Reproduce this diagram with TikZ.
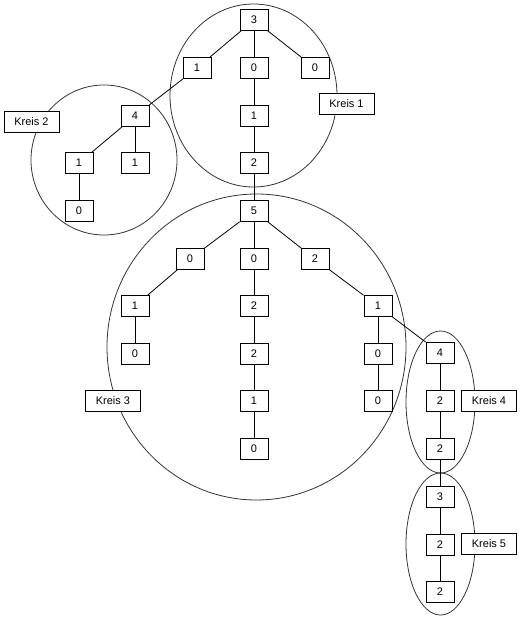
\documentclass[tikz,border=0pt]{standalone}
\usepackage{fontspec}
\setmainfont{Liberation Sans}
\usepackage{tikz}
\usetikzlibrary{positioning}

\begin{document}
\begin{tikzpicture}[
  x=1pt,y=-1pt,
  box/.style={
    draw=black,
    fill=white,
    line width=0.8pt,
    minimum width=28pt,
    minimum height=21pt,
    inner sep=0pt,
    font=\fontsize{11}{11}\selectfont
  },
  kreis/.style={box, minimum width=55pt},
  ring/.style={draw=black!80, line width=0.8pt},
  edge/.style={draw=black, line width=0.8pt},
]
\useasboundingbox (0,0) rectangle (520,620);

% Rings
\draw[ring] (253.5,95.5) ellipse [x radius=83.5, y radius=91.5];
\draw[ring] (104,160) ellipse [x radius=73, y radius=75];
\draw[ring] (256.5,347) ellipse [x radius=149.5, y radius=153];
\draw[ring] (440.5,402) ellipse [x radius=34.5, y radius=71];
\draw[ring] (440.5,544) ellipse [x radius=34.5, y radius=71];

% Kreis 1
\node[box] (a3) at (254,20) {3};
\node[box] (a1) at (197,68) {1};
\node[box] (a0) at (254,68) {0};
\node[box] (a0r) at (315,68) {0};
\node[box] (a1m) at (254,116) {1};
\node[box] (a2) at (254,163) {2};

% Kreis 2
\node[box] (b4) at (135,116) {4};
\node[box] (b1) at (79,163) {1};
\node[box] (b1r) at (135,163) {1};
\node[box] (b0) at (79,211) {0};

% Kreis 3
\node[box] (c5) at (254,211) {5};
\node[box] (c0l) at (190,259) {0};
\node[box] (c0) at (254,259) {0};
\node[box] (c2r) at (315,259) {2};
\node[box] (c1l) at (135,306) {1};
\node[box] (c2) at (254,306) {2};
\node[box] (c1r) at (378,306) {1};
\node[box] (c0ll) at (135,354) {0};
\node[box] (c2m) at (254,354) {2};
\node[box] (c0rr) at (378,354) {0};
\node[box] (c1m) at (254,401) {1};
\node[box] (c0r) at (378,401) {0};
\node[box] (c0m) at (254,449) {0};

% Kreis 4
\node[box] (d4) at (440,353) {4};
\node[box] (d2) at (440,401) {2};
\node[box] (d2u) at (440,449) {2};

% Kreis 5
\node[box] (e3) at (440,497) {3};
\node[box] (e2) at (440,545) {2};
\node[box] (e2u) at (440,592) {2};

% Edges
\draw[edge] (a3) -- (a1);
\draw[edge] (a3) -- (a0);
\draw[edge] (a3) -- (a0r);
\draw[edge] (a0) -- (a1m);
\draw[edge] (a1m) -- (a2);
\draw[edge] (a2) -- (c5);
\draw[edge] (a1) -- (b4);

\draw[edge] (b4) -- (b1);
\draw[edge] (b4) -- (b1r);
\draw[edge] (b1) -- (b0);

\draw[edge] (c5) -- (c0l);
\draw[edge] (c5) -- (c0);
\draw[edge] (c5) -- (c2r);
\draw[edge] (c0l) -- (c1l);
\draw[edge] (c1l) -- (c0ll);
\draw[edge] (c0) -- (c2);
\draw[edge] (c2) -- (c2m);
\draw[edge] (c2m) -- (c1m);
\draw[edge] (c1m) -- (c0m);
\draw[edge] (c2r) -- (c1r);
\draw[edge] (c1r) -- (c0rr);
\draw[edge] (c0rr) -- (c0r);
\draw[edge] (c1r) -- (d4);

\draw[edge] (d4) -- (d2);
\draw[edge] (d2) -- (d2u);
\draw[edge] (d2u) -- (e3);
\draw[edge] (e3) -- (e2);
\draw[edge] (e2) -- (e2u);

% Labels
\node[kreis] (k1) at (346.5,104) {Kreis 1};
\node[kreis] (k2) at (31.5,121.5) {Kreis 2};
\node[kreis] (k3) at (113,401) {Kreis 3};
\node[kreis] (k4) at (489,401) {Kreis 4};
\node[kreis] (k5) at (489,544) {Kreis 5};

\end{tikzpicture}
\end{document}
